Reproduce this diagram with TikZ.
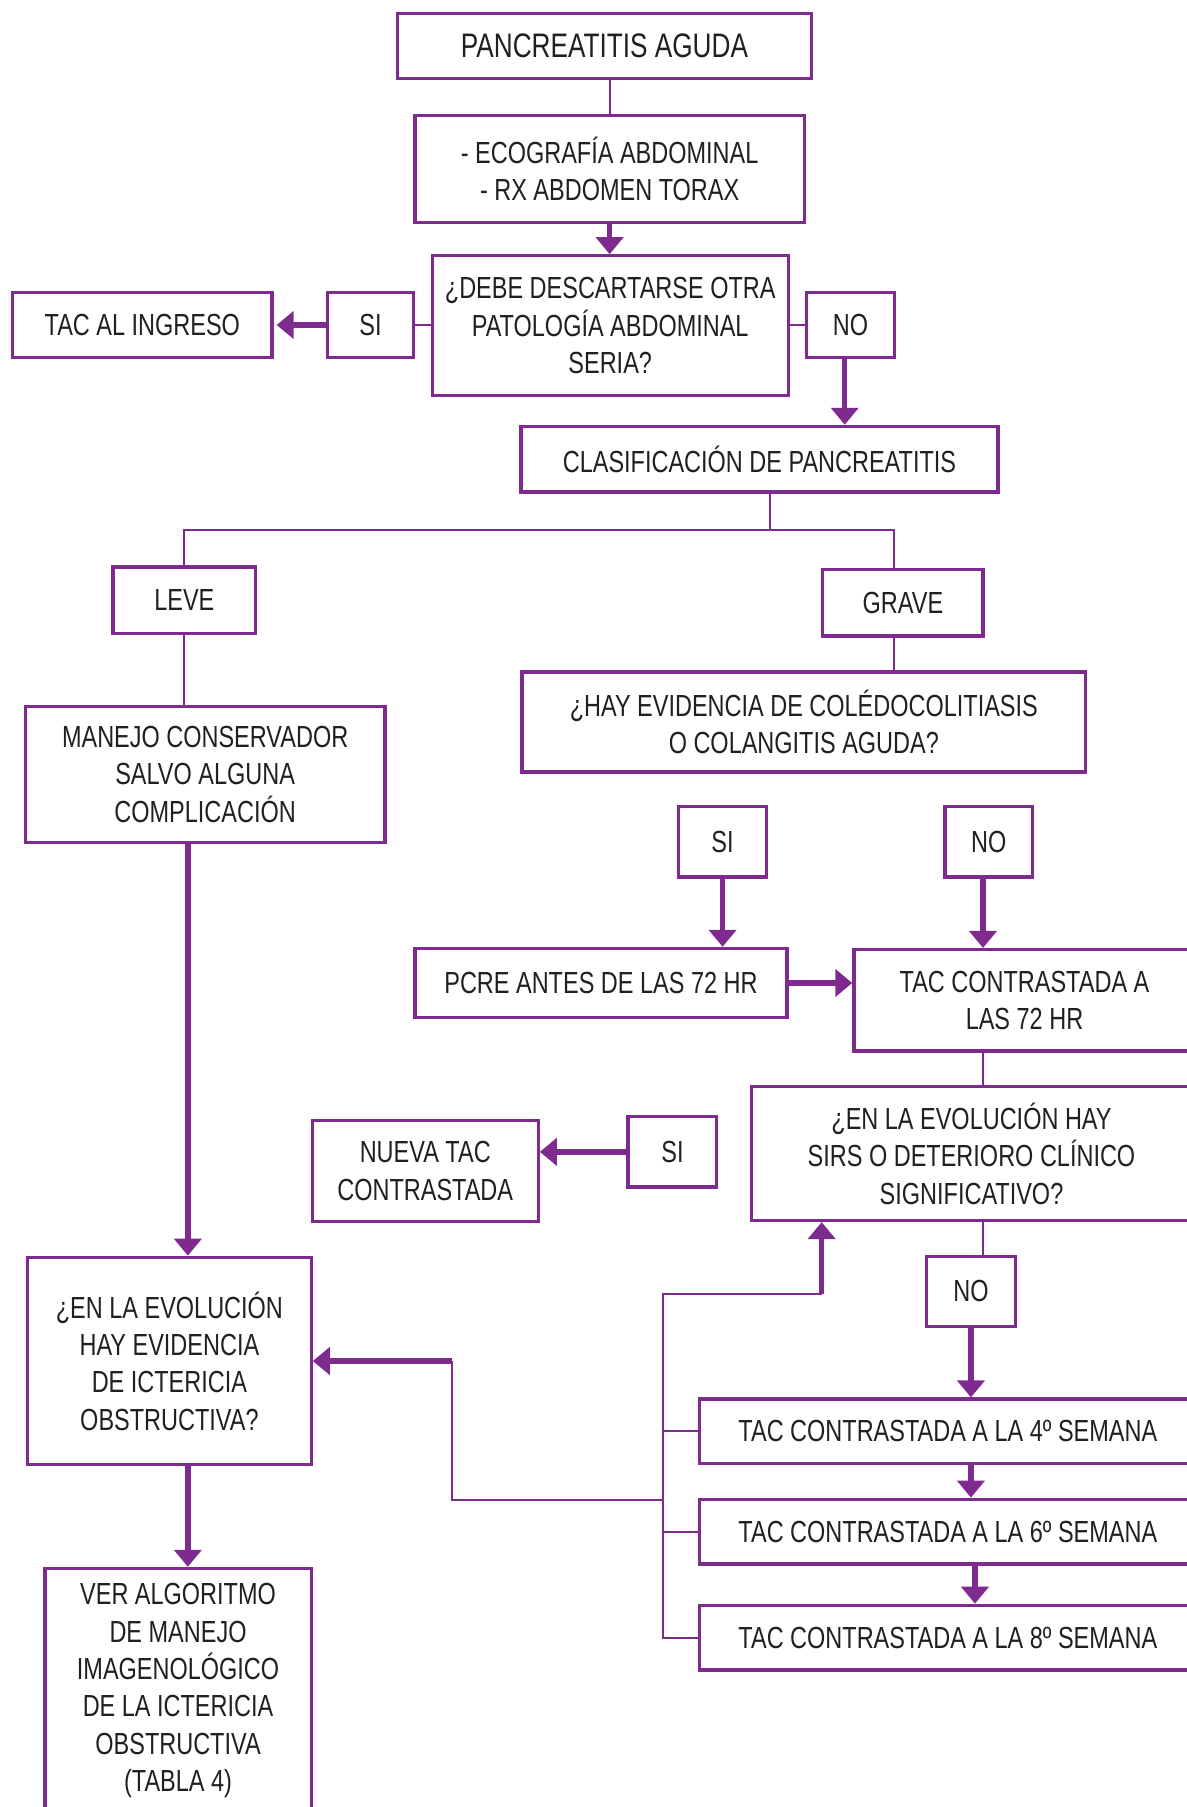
\documentclass[tikz,border=0pt]{standalone}
\usepackage{fontspec}
\setmainfont{Liberation Sans}[FakeStretch=0.77]
\usetikzlibrary{arrows.meta}
\definecolor{purp}{RGB}{127,42,143}
\definecolor{txt}{RGB}{35,31,32}
\newcommand\bx[6]{\node[box, minimum width={(#4-#2)*1.1524pt}, minimum height={(#5-#3)*1.1524pt}] (#1) at ({(#2+#4)/2},{(#3+#5)/2}) {#6};}
\tikzset{
  box/.style={draw=purp, line width=3.3pt, rectangle, align=center, inner sep=0pt,
    text=txt, font=\fontsize{30.5}{37.4}\selectfont},
  conn/.style={draw=purp, line width=2pt},
  arr/.style={draw=purp, line width=5.5pt, -{Triangle[width=27pt,length=17pt]}, purp},
}
\begin{document}
\begin{tikzpicture}[x=1.1524pt,y=-1.1524pt]
\fill[white] (0,0) rectangle (1030,1568);
\useasboundingbox (0,0) rectangle (1030,1568);
% boxes
\node[box, minimum width={359*1.1524pt}, minimum height={56*1.1524pt}, font=\fontsize{34}{40}\selectfont] (panc) at (524.5,40) {PANCREATITIS AGUDA};
\bx{eco}{360}{100}{698}{193}{- ECOGRAFÍA ABDOMINAL\\- RX ABDOMEN TORAX}
\bx{debe}{375}{222}{684}{343}{¿DEBE DESCARTARSE OTRA\\PATOLOGÍA ABDOMINAL\\SERIA?}
\bx{tac1}{11}{254}{236}{310}{TAC AL INGRESO}
\bx{si1}{284}{254}{359}{310}{SI}
\bx{no1}{700}{254}{776}{310}{NO}
\bx{clasif}{452}{370}{866}{427}{CLASIFICACIÓN DE PANCREATITIS}
\bx{leve}{98}{492}{222}{550}{LEVE}
\bx{grave}{714}{494}{853}{552}{GRAVE}
\bx{manejo}{22}{613}{334}{731}{MANEJO CONSERVADOR\\SALVO ALGUNA\\COMPLICACIÓN}
\bx{hay}{453}{583}{942}{670}{¿HAY EVIDENCIA DE COLÉDOCOLITIASIS\\O COLANGITIS AGUDA?}
\bx{si2}{589}{700}{665}{761}{SI}
\bx{no2}{820}{700}{896}{761}{NO}
\bx{pcre}{360}{823}{683}{883}{PCRE ANTES DE LAS 72 HR}
\bx{tac72}{741}{824}{1037}{912}{TAC CONTRASTADA A\\LAS 72 HR}
\bx{sirs}{652}{943}{1034}{1059}{¿EN LA EVOLUCIÓN HAY\\SIRS O DETERIORO CLÍNICO\\SIGNIFICATIVO?}
\bx{nueva}{271}{972}{467}{1060}{NUEVA TAC\\CONTRASTADA}
\bx{si3}{545}{969}{622}{1030}{SI}
\bx{evol}{24}{1091}{270}{1271}{¿EN LA EVOLUCIÓN\\HAY EVIDENCIA\\DE ICTERICIA\\OBSTRUCTIVA?}
\bx{no3}{804}{1090}{881}{1151}{NO}
\bx{tac4}{607}{1214}{1038}{1270}{TAC CONTRASTADA A LA 4º SEMANA}
\bx{tac6}{607}{1301}{1038}{1357}{TAC CONTRASTADA A LA 6º SEMANA}
\bx{tac8}{607}{1393}{1038}{1449}{TAC CONTRASTADA A LA 8º SEMANA}
\bx{ver}{39}{1361}{270}{1573}{VER ALGORITMO\\DE MANEJO\\IMAGENOLÓGICO\\DE LA ICTERICIA\\OBSTRUCTIVA\\(TABLA 4)}
% helper coordinates
\coordinate (j1) at (668,460);
\coordinate (c1) at (733,0);
\coordinate (c2) at (776,0);
\coordinate (c3) at (853,0);
\coordinate (c4) at (163,0);
\coordinate (c5) at (846,0);
\coordinate (bx) at (575,0);
\coordinate (b1) at (575,1123);
\coordinate (b2) at (713,1123);
\coordinate (bm) at (575,1302);
\coordinate (bl) at (392,1302);
\coordinate (bl2) at (392,1181);
% connectors
\draw[conn] (eco.north) -- (eco.north |- panc.south);
\draw[arr] (eco.south) -- (eco.south |- debe.north);
\draw[conn] (si1.east) -- (si1.east -| debe.west);
\draw[arr, shorten >=3pt] (si1.west) -- (si1.west -| tac1.east);
\draw[conn] (no1.west) -- (no1.west -| debe.east);
\draw[arr] (c1 |- no1.south) -- (c1 |- clasif.north);
\draw[conn] (j1 |- clasif.south) -- (j1);
\draw[conn] (leve.north) |- (j1);
\draw[conn] (j1) -| (c2 |- grave.north);
\draw[conn] (leve.south) -- (leve.south |- manejo.north);
\draw[conn] (c2 |- grave.south) -- (c2 |- hay.north);
\draw[arr] (si2.south) -- (si2.south |- pcre.north);
\draw[arr] (c3 |- no2.south) -- (c3 |- tac72.north);
\draw[arr] (pcre.east) -- (pcre.east -| tac72.west);
\draw[arr] (c4 |- manejo.south) -- (c4 |- evol.north);
\draw[arr] (c4 |- evol.south) -- (c4 |- ver.north);
\draw[conn] (c3 |- tac72.south) -- (c3 |- sirs.north);
\draw[arr] (si3.west) -- (si3.west -| nueva.east);
\draw[conn] (c3 |- sirs.south) -- (c3 |- no3.north);
\draw[arr] (no3.south) -- (no3.south |- tac4.north);
\draw[arr] (no3.south |- tac4.south) -- (no3.south |- tac6.north);
\draw[arr] (c5 |- tac6.south) -- (c5 |- tac8.north);
\draw[conn] (b2) -- (b1) -- (bx |- tac8.west) -- (tac8.west);
\draw[conn] (bx |- tac4.west) -- (tac4.west);
\draw[conn] (bx |- tac6.west) -- (tac6.west);
\draw[arr] (b2) -- (b2 |- sirs.south);
\draw[conn] (bm) -- (bl) -- (bl2);
\draw[arr] (bl2) -- (bl2 -| evol.east);
\end{tikzpicture}
\end{document}
